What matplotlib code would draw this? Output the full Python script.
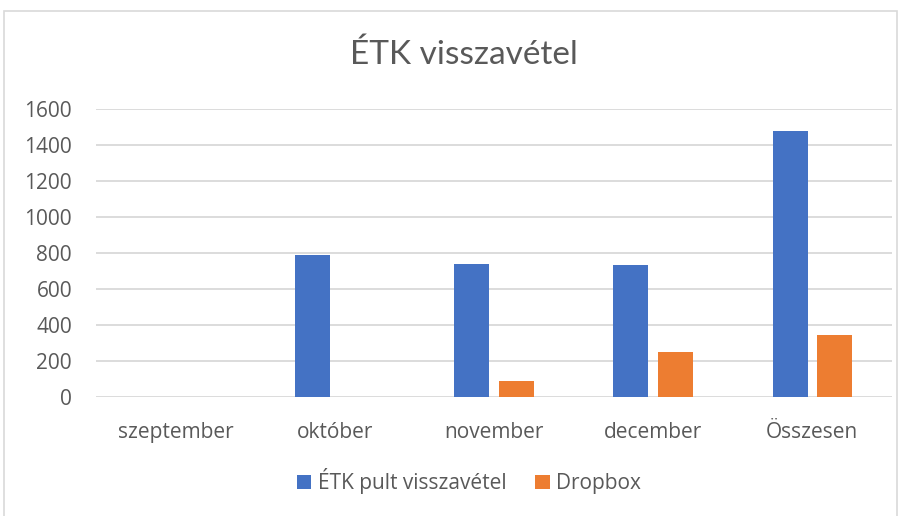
import matplotlib
matplotlib.use("Agg")
import matplotlib.pyplot as plt
import numpy as np
from matplotlib.patches import Rectangle

categories = ["szeptember", "október", "november", "december", "Összesen"]
pult = [0, 790, 740, 735, 1480]
dropbox = [0, 0, 91, 250, 344]
yticks = [0, 200, 400, 600, 800, 1000, 1200, 1400, 1600]
series_names = ["ÉTK pult visszavétel", "Dropbox"]
title = "ÉTK visszavétel"

plt.rcParams['font.family'] = ['Open Sans', 'DejaVu Sans']

W, H = 905, 516
fig = plt.figure(figsize=(W / 100, H / 100), dpi=100)
fig.patches.append(Rectangle((4 / W, -0.01), (897 - 4) / W, (H - 11) / H + 0.01,
                             transform=fig.transFigure, fill=False,
                             edgecolor="#d9d9d9", linewidth=1.2))

ax = fig.add_axes([95.7 / W, (H - 397.3) / H, (892 - 95.7) / W, (397.3 - 109.3) / H])
x = np.arange(len(categories))
bw = 0.22
off = 0.14
ax.bar(x - off, pult, bw, color="#4472c4", label=series_names[0], zorder=3)
ax.bar(x + off, dropbox, bw, color="#ed7d31", label=series_names[1], zorder=3)

ax.set_xlim(-0.5, len(categories) - 0.5)
ax.set_ylim(0, 1600)
ax.set_yticks(yticks)
ax.set_yticklabels([str(v) for v in yticks])
ax.set_xticks(x)
ax.set_xticklabels(categories)
for s in ax.spines.values():
    s.set_visible(False)
ax.grid(axis="y", color="#d9d9d9", linewidth=1.3, zorder=0)
ax.set_axisbelow(True)
ax.tick_params(axis="both", length=0, labelsize=15, labelcolor="#595959")
ax.tick_params(axis="y", pad=17)
ax.tick_params(axis="x", pad=18)

fig.text(464 / W, 1 - 55 / H, title, ha="center", va="center", fontsize=24,
         color="#595959", family=["Lato", "DejaVu Sans"])

leg = fig.legend(loc="center", bbox_to_anchor=(469 / W, 1 - 481 / H), ncol=2,
                 frameon=False, fontsize=15, handlelength=0.68, handleheight=0.68,
                 handletextpad=0.3, columnspacing=1.4)
for t in leg.get_texts():
    t.set_color("#595959")

fig.savefig("out.png", dpi=100)
